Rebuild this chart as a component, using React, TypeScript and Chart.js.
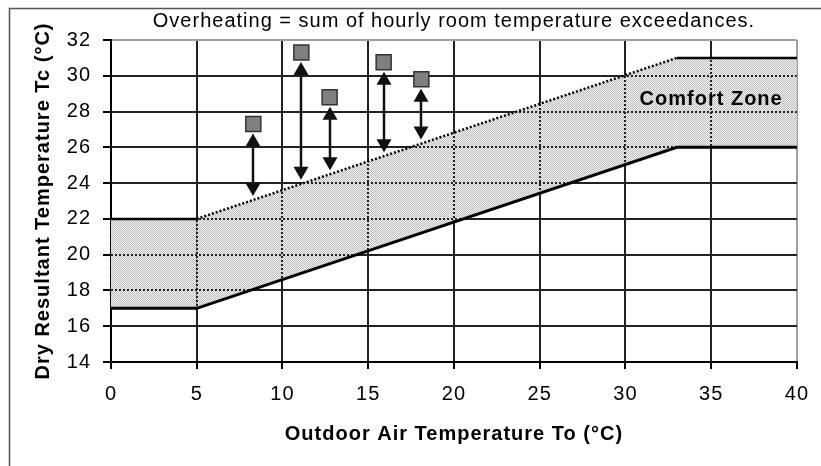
import React, { useEffect, useRef } from 'react';
import { Chart, registerables } from 'chart.js';

Chart.register(...registerables);

// ---- data ----
const comfortX = [0, 5, 33, 40];
const comfortUpper = [22, 22, 31, 31];
const comfortLower = [17, 17, 26, 26];
const obsX = [8.3, 11.1, 12.75, 15.9, 18.1];
const obsTemp = [27.3, 31.3, 28.8, 30.75, 29.8];

const xMin = 0;
const xMax = 40;
const xStep = 5;
const yMin = 14;
const yMax = 32;
const yStep = 2;

const titleText = 'Overheating = sum of hourly room temperature exceedances.';
const xTitle = 'Outdoor Air Temperature To (°C)';
const yTitle = 'Dry Resultant Temperature Tc (°C)';
const zoneLabel = 'Comfort Zone';
const zoneLabelAt = { x: 35, y: 28.7 };

const FONT = '"Liberation Sans", Arial, sans-serif';
const SQ_RADIUS = 10.6; // rect side = 1.414 * radius (~15px)

function interp(xs: number[], ys: number[], x: number): number {
  for (let i = 0; i < xs.length - 1; i++) {
    if (x >= xs[i] && x <= xs[i + 1]) {
      const t = (x - xs[i]) / (xs[i + 1] - xs[i]);
      return ys[i] + t * (ys[i + 1] - ys[i]);
    }
  }
  return ys[ys.length - 1];
}

function makePattern(): CanvasPattern | string {
  const c = document.createElement('canvas');
  c.width = 2;
  c.height = 2;
  const g = c.getContext('2d');
  if (!g) return '#d8d8d8';
  g.fillStyle = '#f2f2f2';
  g.fillRect(0, 0, 2, 2);
  g.fillStyle = '#bdbdbd';
  g.fillRect(0, 0, 1, 1);
  g.fillRect(1, 1, 1, 1);
  const p = g.createPattern(c, 'repeat');
  return p || '#d8d8d8';
}

const align = (p: number, w: number) => Math.round(p - w / 2) + w / 2;

const decorPlugin = {
  id: 'decor',
  beforeDraw(chart: any) {
    const ctx = chart.ctx;
    ctx.save();
    ctx.fillStyle = '#ffffff';
    ctx.fillRect(0, 0, chart.width, chart.height);
    ctx.strokeStyle = '#555555';
    ctx.lineWidth = 1.5;
    ctx.strokeRect(9.5, 8.5, chart.width + 40, chart.height + 40);
    ctx.restore();
    (ctx as any).letterSpacing = '1px';
  },
  beforeDatasetsDraw(chart: any) {
    (chart.ctx as any).letterSpacing = '0px';
  },
  beforeDatasetDraw(chart: any, args: any) {
    if (args.index !== 2) return;
    const { ctx, chartArea } = chart;
    const xs = chart.scales.x;
    const ys = chart.scales.y;
    ctx.save();
    ctx.beginPath();
    comfortX.forEach((v, i) => {
      const px = xs.getPixelForValue(v);
      const py = ys.getPixelForValue(comfortUpper[i]);
      if (i === 0) ctx.moveTo(px, py);
      else ctx.lineTo(px, py);
    });
    for (let i = comfortX.length - 1; i >= 0; i--) {
      ctx.lineTo(xs.getPixelForValue(comfortX[i]), ys.getPixelForValue(comfortLower[i]));
    }
    ctx.closePath();
    ctx.clip();
    ctx.strokeStyle = '#222222';
    ctx.lineWidth = 2;
    ctx.setLineDash([2, 2]);
    ctx.beginPath();
    for (let v = xMin + xStep; v < xMax; v += xStep) {
      const px = align(xs.getPixelForValue(v), 2);
      ctx.moveTo(px, chartArea.top);
      ctx.lineTo(px, chartArea.bottom);
    }
    for (let v = yMin + yStep; v < yMax; v += yStep) {
      const py = align(ys.getPixelForValue(v), 2);
      ctx.moveTo(chartArea.left, py);
      ctx.lineTo(chartArea.right, py);
    }
    ctx.stroke();
    ctx.restore();
  },
  afterDatasetsDraw(chart: any) {
    const ctx = chart.ctx;
    const xs = chart.scales.x;
    const ys = chart.scales.y;
    const half = (SQ_RADIUS * Math.SQRT1_2);
    ctx.save();
    ctx.fillStyle = '#111111';
    ctx.strokeStyle = '#111111';
    ctx.lineWidth = 2.5;
    const hl = 13;
    const hw = 7.5;
    obsX.forEach((xv, i) => {
      const px = Math.round(xs.getPixelForValue(xv));
      const top = ys.getPixelForValue(obsTemp[i]) + half + 2;
      const bot = ys.getPixelForValue(interp(comfortX, comfortUpper, xv)) - 4;
      ctx.beginPath();
      ctx.moveTo(px, top + hl - 1);
      ctx.lineTo(px, bot - hl + 1);
      ctx.stroke();
      ctx.beginPath();
      ctx.moveTo(px, top);
      ctx.lineTo(px - hw, top + hl);
      ctx.lineTo(px + hw, top + hl);
      ctx.closePath();
      ctx.fill();
      ctx.beginPath();
      ctx.moveTo(px, bot);
      ctx.lineTo(px - hw, bot - hl);
      ctx.lineTo(px + hw, bot - hl);
      ctx.closePath();
      ctx.fill();
    });
    // zone label
    (ctx as any).letterSpacing = '1px';
    ctx.font = `bold 20px ${FONT}`;
    ctx.fillStyle = '#000000';
    ctx.textAlign = 'center';
    ctx.textBaseline = 'middle';
    ctx.fillText(zoneLabel, xs.getPixelForValue(zoneLabelAt.x), ys.getPixelForValue(zoneLabelAt.y));
    (ctx as any).letterSpacing = '0px';
    ctx.restore();
  },
};

export default function App() {
  const ref = useRef<HTMLCanvasElement | null>(null);

  useEffect(() => {
    if (!ref.current) return;
    const pattern = makePattern();
    const pts = (xs: number[], ys: number[]) => xs.map((x, i) => ({ x, y: ys[i] }));

    const chart = new Chart(ref.current, {
      type: 'scatter',
      data: {
        datasets: [
          {
            label: 'Observed',
            data: pts(obsX, obsTemp),
            pointStyle: 'rect',
            pointRadius: SQ_RADIUS,
            pointHoverRadius: SQ_RADIUS,
            pointBackgroundColor: '#808080',
            pointBorderColor: '#333333',
            pointBorderWidth: 1.5,
            showLine: false,
            order: 0,
          },
          {
            label: 'Upper',
            data: pts(comfortX, comfortUpper),
            showLine: true,
            pointRadius: 0,
            borderColor: '#000000',
            borderWidth: 2.5,
            backgroundColor: pattern as any,
            fill: '+1',
            segment: {
              borderDash: (c: any) => (c.p0.parsed.y !== c.p1.parsed.y ? [2, 2] : undefined),
            },
            order: 1,
          },
          {
            label: 'Lower',
            data: pts(comfortX, comfortLower),
            showLine: true,
            pointRadius: 0,
            borderColor: '#000000',
            borderWidth: 3,
            fill: false,
            order: 2,
          },
        ],
      },
      options: {
        responsive: false,
        animation: false,
        events: [],
        layout: { padding: { left: 0, right: 20, top: 0, bottom: 0 } },
        plugins: {
          legend: { display: false },
          tooltip: { enabled: false },
          filler: { drawTime: 'beforeDatasetsDraw' },
          title: {
            display: true,
            text: titleText,
            fullSize: false,
            color: '#000000',
            font: { family: FONT, size: 20, weight: 'normal' },
            padding: { top: 9.7, bottom: 6.3 },
          },
        },
        scales: {
          x: {
            type: 'linear',
            min: xMin,
            max: xMax,
            ticks: {
              stepSize: xStep,
              color: '#000000',
              font: { family: FONT, size: 20 },
              padding: 13,
              maxRotation: 0,
            },
            grid: {
              color: (c: any) => (c.tick && c.tick.value === xMax ? '#a0a0a0' : '#222222'),
              lineWidth: 2,
              tickLength: 7,
              tickColor: '#000000',
            },
            border: { color: '#000000', width: 2 },
            title: {
              display: true,
              text: xTitle,
              color: '#000000',
              font: { family: FONT, size: 20, weight: 'bold' },
              padding: { top: 0, bottom: 20 },
            },
            afterFit: (s: any) => {
              s.height = 104;
            },
          },
          y: {
            type: 'linear',
            min: yMin,
            max: yMax,
            ticks: {
              stepSize: yStep,
              color: '#000000',
              font: { family: FONT, size: 20 },
              padding: 12,
            },
            grid: {
              color: (c: any) => (c.tick && c.tick.value === yMax ? '#a0a0a0' : '#222222'),
              lineWidth: 2,
              tickLength: 8,
              tickColor: '#000000',
            },
            border: { color: '#000000', width: 2 },
            title: {
              display: true,
              text: yTitle,
              color: '#000000',
              font: { family: FONT, size: 20, weight: 'bold' },
              padding: { top: 31, bottom: 0 },
            },
            afterFit: (s: any) => {
              s.width = 111;
            },
          },
        },
      } as any,
      plugins: [decorPlugin as any],
    });

    return () => chart.destroy();
  }, []);

  return (
    <div style={{ position: 'absolute', left: 0, top: 0, width: 821, height: 466 }}>
      <canvas ref={ref} width={821} height={466} />
    </div>
  );
}
